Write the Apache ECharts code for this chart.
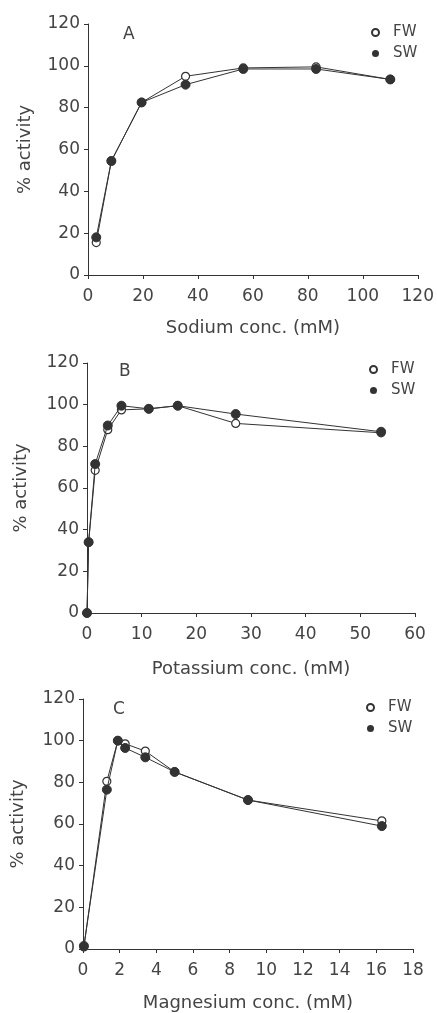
<!DOCTYPE html>
<html>
<head>
<meta charset="utf-8">
<script src="https://cdn.jsdelivr.net/npm/echarts@6/dist/echarts.min.js"></script>
<style>
  html, body { margin: 0; padding: 0; background: #fff; }
  #chart { width: 437px; height: 1013px; }
</style>
</head>
<body>
<div id="chart"></div>
<script>
// panel A: sodium
var naConc = [3, 8.5, 19.5, 35.5, 56.5, 83, 110];
var naFW = [15.5, 54.5, 82.5, 95, 99, 99.5, 93.5];
var naSW = [18, 54.5, 82.5, 91, 98.5, 98.5, 93.5];

// panel B: potassium
var kConc = [0, 0.3, 1.5, 3.8, 6.3, 11.3, 16.6, 27.2, 53.8];
var kFW = [0, 34, 68.5, 88, 97.5, 98, 99.5, 91, 86.5];
var kSW = [0, 34, 71.5, 90, 99.5, 98, 99.5, 95.5, 87];

// panel C: magnesium
var mgConc = [0.05, 1.3, 1.9, 2.3, 3.4, 5.0, 9.0, 16.3];
var mgFW = [1, 80.5, 100, 98.5, 95, 85, 71.5, 61.5];
var mgSW = [1.5, 76.5, 100, 96.5, 92, 85, 71.5, 59];

var panelLetters = ["A", "B", "C"];
var xNames = ["Sodium conc. (mM)", "Potassium conc. (mM)", "Magnesium conc. (mM)"];
var xMax = [120, 60, 18];
var xStep = [20, 10, 2];
var yTitle = "% activity";

function pairs(xs, ys) {
  return xs.map(function (x, i) { return [x, ys[i]]; });
}

var font = "DejaVu Sans";
var ink = "#333";
var txt = "#444";

// grid layout for the 3 panels
var grids = [
  { left: 88, right: 19, top: 24, height: 251 },
  { left: 87, right: 22, top: 363, height: 250 },
  { left: 83, right: 24, top: 699, height: 253 }
];
var nameGapsX = [44, 47, 45];
var nameGapsY = [54, 57, 56];
var legendTops = [20, 357, 695];
var legendLeft = [366, 364, 361];

var chart = echarts.init(document.getElementById("chart"));

var xAxes = [], yAxes = [], titles = [], legends = [];
for (var i = 0; i < 3; i++) {
  xAxes.push({
    gridIndex: i,
    type: "value",
    min: 0,
    max: xMax[i],
    interval: xStep[i],
    name: xNames[i],
    nameLocation: "middle",
    nameGap: nameGapsX[i],
    nameTextStyle: { fontFamily: font, fontSize: 18, color: txt },
    axisLine: { show: true, lineStyle: { color: ink, width: 1 } },
    axisTick: { show: true, length: 4, lineStyle: { color: ink } },
    axisLabel: { fontFamily: font, fontSize: 17, color: txt, margin: 13 },
    splitLine: { show: false }
  });
  yAxes.push({
    gridIndex: i,
    type: "value",
    min: 0,
    max: 120,
    interval: 20,
    name: yTitle,
    nameLocation: "middle",
    nameGap: nameGapsY[i],
    nameTextStyle: { fontFamily: font, fontSize: 18, color: txt },
    axisLine: { show: true, lineStyle: { color: ink, width: 1 } },
    axisTick: { show: true, length: 4, lineStyle: { color: ink } },
    axisLabel: { fontFamily: font, fontSize: 17, color: txt, margin: 8 },
    splitLine: { show: false }
  });
  titles.push({
    text: panelLetters[i],
    left: [118, 114, 108][i],
    top: grids[i].top + [-3, -5, -3][i],
    textStyle: { fontFamily: font, fontSize: 17, fontWeight: "normal", color: txt }
  });
  legends.push({
    orient: "vertical",
    left: legendLeft[i],
    top: legendTops[i],
    itemWidth: 7,
    itemHeight: 7,
    itemGap: 6,
    icon: "circle",
    data: ["FW", "SW"],
    textStyle: { fontFamily: font, fontSize: 15, color: txt, padding: [0, 0, 0, 9] }
  });
}

var sets = [
  [naConc, naFW, naSW],
  [kConc, kFW, kSW],
  [mgConc, mgFW, mgSW]
];

var series = [];
sets.forEach(function (s, i) {
  series.push({
    name: "FW",
    type: "line",
    xAxisIndex: i,
    yAxisIndex: i,
    data: pairs(s[0], s[1]),
    symbol: "circle",
    symbolSize: 8,
    lineStyle: { color: ink, width: 1 },
    itemStyle: { color: "#fff", borderColor: ink, borderWidth: 1.2 },
    z: 3
  });
  series.push({
    name: "SW",
    type: "line",
    xAxisIndex: i,
    yAxisIndex: i,
    data: pairs(s[0], s[2]),
    symbol: "circle",
    symbolSize: 9,
    lineStyle: { color: ink, width: 1 },
    itemStyle: { color: ink, borderColor: ink },
    z: 4
  });
});

chart.setOption({
  backgroundColor: "#fff",
  animation: false,
  title: titles,
  legend: legends,
  grid: grids,
  xAxis: xAxes,
  yAxis: yAxes,
  series: series
});
</script>
</body>
</html>
